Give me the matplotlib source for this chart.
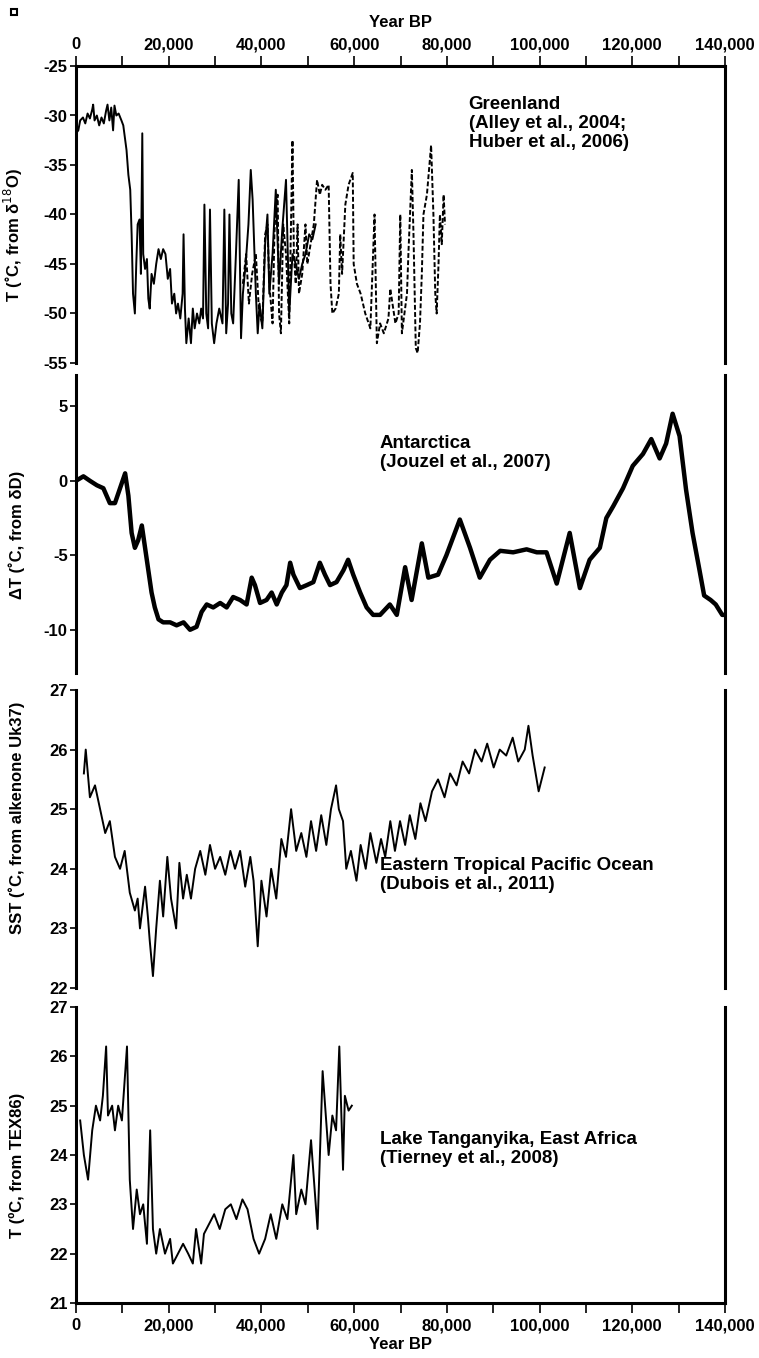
import matplotlib
matplotlib.use("Agg")
import matplotlib.pyplot as plt
from matplotlib.patches import Rectangle
from matplotlib.ticker import FuncFormatter, MultipleLocator

plt.rcParams['font.family'] = ['Liberation Sans', 'DejaVu Sans']
plt.rcParams['axes.unicode_minus'] = False

# ---------------- data ----------------
# Greenland, solid (Alley et al., 2004)
gr_solid_year = [0, 500, 900, 1500, 2000, 2500, 3000, 3500, 3700, 4000, 4500, 5000, 5500, 6000,
                 6500, 6800, 7200, 7600, 8000, 8300, 8700, 9200, 9800, 10200, 10900, 11300, 11700,
                 12000, 12300, 12700, 13000, 13300, 13700, 14000, 14300, 14500, 14900, 15300, 15600,
                 15900, 16300, 16800, 17300, 17800, 18300, 18800, 19300, 19800, 20300, 20700, 21200,
                 21600, 22000, 22500, 23000, 23200, 23500, 23800, 24300, 24800, 25200, 25600, 26100,
                 26600, 27000, 27400, 27700, 28100, 28500, 28900, 29300, 29800, 30300, 30900, 31600,
                 32000, 32400, 32800, 33100, 33500, 33900, 34500, 35100, 35600, 36000, 36600, 37200,
                 37700, 38100, 38800, 39200, 39600, 40200, 40800, 41300, 41700, 42400, 43100, 43800,
                 44500, 45300, 46000, 46700, 47400, 48100, 48800, 49500, 50300, 51000, 51700]
gr_solid_T = [-31.8, -31.5, -30.5, -30.2, -30.8, -29.8, -30.3, -29.4, -28.9, -30.5, -30.0, -31.0,
              -30.2, -30.8, -29.5, -28.9, -30.5, -29.2, -31.5, -29.0, -30.0, -29.8, -30.5, -31.0,
              -33.5, -36.0, -37.5, -42.0, -48.0, -50.0, -45.0, -41.0, -40.5, -46.0, -31.8, -44.0,
              -45.5, -44.5, -48.5, -49.5, -46.0, -47.0, -45.0, -43.5, -44.5, -43.5, -44.0, -46.5,
              -45.5, -49.0, -48.0, -50.0, -49.0, -50.5, -48.0, -42.0, -49.5, -53.0, -50.5, -53.0,
              -49.5, -51.5, -50.0, -51.0, -49.5, -50.5, -39.0, -50.0, -51.5, -39.5, -51.0, -53.0,
              -51.0, -49.5, -51.0, -39.5, -52.0, -49.0, -40.0, -50.0, -51.0, -44.0, -36.5, -52.5,
              -48.0, -45.0, -41.0, -35.5, -38.5, -48.0, -52.0, -49.0, -51.5, -43.0, -40.0, -48.0,
              -44.0, -37.5, -47.0, -41.5, -36.5, -50.0, -44.0, -45.0, -46.5, -45.0, -44.0, -42.0,
              -42.5, -41.0]

# Greenland, dashed (Huber et al., 2006)
gr_dash_year = [36000, 36700, 37300, 38000, 38800, 39500, 40200, 40800, 41300, 41700, 42400, 42800,
                43100, 43500, 43800, 44200, 44700, 45300, 46000, 46700, 47000, 47400, 47800, 48100,
                48800, 49500, 49900, 50600, 51300, 52000, 52600, 53100, 53800, 54500, 54900, 55300,
                56000, 56700, 57000, 57400, 58100, 58800, 59700, 59900, 60600, 61400, 62400, 63500,
                64400, 64900, 65600, 66400, 67400, 67800, 68900, 69600, 69950, 70300, 71400, 71700,
                72450, 72800, 73300, 73700, 74200, 74600, 74950, 75700, 76600, 77100, 77500, 77800,
                78200, 78500, 78900, 79300, 79600]
gr_dash_T = [-47, -44, -49, -46, -44, -50, -51, -42, -41, -47, -51, -42, -39, -38, -50, -52, -41,
             -44, -51, -32.5, -44, -47, -41, -48, -46, -41, -45, -43, -41, -36.5, -38, -37, -37.5,
             -37, -47, -50, -49.5, -48, -42, -46, -39, -37, -35.8, -45, -47, -48, -50, -51.5, -40,
             -53, -51, -52, -50.5, -47.5, -51, -50, -40, -52, -48, -44, -35.5, -42, -53.5, -54, -51,
             -46, -40, -38, -33, -40, -48, -50, -45, -40, -43, -38, -41]

# Antarctica (Jouzel et al., 2007)
ant_year = [0, 1600, 3000, 4500, 5900, 7300, 8400, 9500, 10600, 11300, 12000, 12700, 13400, 14200,
            14900, 15600, 16300, 17000, 17800, 18800, 20300, 21700, 23200, 24600, 26000, 27100,
            28200, 29600, 31100, 32500, 33900, 35400, 36800, 37900, 38600, 39700, 41100, 42200,
            43300, 44400, 45400, 46200, 46900, 48300, 49800, 51200, 52600, 53700, 54800, 56200,
            57700, 58700, 59800, 61300, 62700, 64100, 65600, 67700, 69200, 71000, 72400, 74600,
            76000, 78100, 79900, 82800, 85000, 87100, 89300, 91500, 94300, 97200, 99400, 101500,
            103700, 106500, 108700, 110800, 113000, 114400, 115900, 118000, 120100, 122300, 124100,
            125900, 127300, 128700, 130200, 131600, 133000, 134500, 135500, 136900, 138000, 139400,
            140000]
ant_dT = [0.0, 0.3, 0.0, -0.3, -0.5, -1.5, -1.5, -0.5, 0.5, -1.0, -3.5, -4.5, -4.0, -3.0, -4.5,
          -6.0, -7.5, -8.5, -9.3, -9.5, -9.5, -9.7, -9.5, -10.0, -9.8, -8.8, -8.3, -8.5, -8.2, -8.5,
          -7.8, -8.0, -8.3, -6.5, -7.0, -8.2, -8.0, -7.5, -8.3, -7.5, -7.0, -5.5, -6.3, -7.2, -7.0,
          -6.8, -5.5, -6.3, -7.0, -6.8, -6.0, -5.3, -6.3, -7.5, -8.5, -9.0, -9.0, -8.3, -9.0, -5.8,
          -8.0, -4.2, -6.5, -6.3, -5.0, -2.6, -4.5, -6.5, -5.3, -4.7, -4.8, -4.6, -4.8, -4.8, -6.9,
          -3.5, -7.2, -5.3, -4.5, -2.5, -1.7, -0.5, 1.0, 1.8, 2.8, 1.5, 2.5, 4.5, 3.0, -0.6, -3.5,
          -6.0, -7.7, -8.0, -8.3, -9.0, -9.0]

# Eastern Tropical Pacific SST (Dubois et al., 2011)
sst_year = [1700, 2100, 3000, 4100, 5200, 6300, 7300, 8400, 9500, 10500, 11600, 12700, 13300,
            13800, 14900, 15500, 15900, 16600, 17300, 18100, 18800, 19700, 20500, 21600, 22300,
            23100, 23900, 24800, 25700, 26800, 27900, 28900, 30000, 31100, 32200, 33300, 34300,
            35400, 36500, 37600, 38300, 39200, 40000, 41100, 42100, 43200, 44300, 45300, 46400,
            47500, 48600, 49700, 50700, 51800, 52900, 54000, 55000, 56100, 56700, 57600, 58300,
            59300, 60500, 61400, 62500, 63500, 64800, 65800, 66700, 67800, 68800, 69900, 71000,
            72000, 73200, 74300, 75400, 76800, 78100, 79500, 80700, 82100, 83400, 84800, 86100,
            87500, 88700, 90100, 91400, 92800, 94200, 95400, 96800, 97600, 98500, 99800, 101100]
sst = [25.6, 26.0, 25.2, 25.4, 25.0, 24.6, 24.8, 24.2, 24.0, 24.3, 23.6, 23.3, 23.5, 23.0, 23.7,
       23.2, 22.8, 22.2, 23.0, 23.8, 23.2, 24.2, 23.5, 23.0, 24.1, 23.5, 23.9, 23.5, 24.0, 24.3,
       23.9, 24.4, 24.0, 24.2, 23.9, 24.3, 24.0, 24.3, 23.7, 24.2, 23.8, 22.7, 23.8, 23.2, 24.0,
       23.5, 24.5, 24.2, 25.0, 24.3, 24.6, 24.2, 24.8, 24.3, 24.9, 24.4, 25.0, 25.4, 25.0, 24.8,
       24.0, 24.3, 23.8, 24.4, 24.0, 24.6, 24.1, 24.5, 24.2, 24.8, 24.3, 24.8, 24.4, 24.9, 24.5,
       25.1, 24.8, 25.3, 25.5, 25.2, 25.6, 25.4, 25.8, 25.6, 26.0, 25.8, 26.1, 25.7, 26.0, 25.9,
       26.2, 25.8, 26.0, 26.4, 25.9, 25.3, 25.7]

# Lake Tanganyika (Tierney et al., 2008)
tex_year = [900, 1700, 2600, 3500, 4300, 5200, 5800, 6500, 6900, 7800, 8400, 9100, 9900, 11000,
            11600, 12300, 13100, 13800, 14500, 15300, 16000, 16600, 17300, 18100, 19200, 20300,
            20900, 22000, 23100, 24200, 25200, 25900, 27000, 27600, 28700, 29800, 31000, 32200,
            33400, 34600, 35900, 37000, 38300, 39500, 40800, 42000, 43200, 44500, 45600, 46900,
            47500, 48600, 49500, 50700, 52100, 53200, 54500, 55300, 56100, 56800, 57600, 58000,
            58800, 59500]
tex = [24.7, 24.0, 23.5, 24.5, 25.0, 24.7, 25.2, 26.2, 24.8, 25.0, 24.5, 25.0, 24.7, 26.2, 23.5,
       22.5, 23.3, 22.8, 23.0, 22.2, 24.5, 22.5, 22.0, 22.5, 22.0, 22.3, 21.8, 22.0, 22.2, 22.0,
       21.8, 22.5, 21.8, 22.4, 22.6, 22.8, 22.5, 22.9, 23.0, 22.7, 23.1, 22.9, 22.3, 22.0, 22.3,
       22.8, 22.3, 23.0, 22.7, 24.0, 22.8, 23.3, 23.0, 24.3, 22.5, 25.7, 24.0, 24.8, 24.5, 26.2,
       23.7, 25.2, 24.9, 25.0]

# ---------------- layout (pixel boxes of the reference) ----------------
W, H = 759, 1358
fig = plt.figure(figsize=(W / 100, H / 100), dpi=100)
left_px, right_px = 76, 725


def add_panel(top, bottom):
    return fig.add_axes([left_px / W, 1 - bottom / H, (right_px - left_px) / W, (bottom - top) / H])


ax1 = add_panel(66, 363)
ax2 = add_panel(375, 673)
ax3 = add_panel(690, 988)
ax4 = add_panel(1007, 1303)
axes = [ax1, ax2, ax3, ax4]

lw_spine = 2.2
fs_tick = 12
fs_label = 12
fs_note = 13.5
fmt = FuncFormatter(lambda v, p: "{:,}".format(int(v)))
for ax in axes:
    ax.set_xlim(0, 140000)
    for s in ['left', 'right']:
        ax.spines[s].set_linewidth(lw_spine)
    ax.spines['top'].set_visible(False)
    ax.spines['bottom'].set_visible(False)
    ax.tick_params(axis='y', direction='out', length=4, width=1.2, labelsize=fs_tick, pad=2)
    ax.tick_params(axis='x', which='both', bottom=False, top=False, labelbottom=False, labeltop=False)

# top axis
ax1.spines['top'].set_visible(True)
ax1.spines['top'].set_linewidth(lw_spine)
ax1.xaxis.set_major_locator(MultipleLocator(20000))
ax1.xaxis.set_minor_locator(MultipleLocator(10000))
ax1.xaxis.set_major_formatter(fmt)
ax1.tick_params(axis='x', which='both', top=True, labeltop=True, direction='out', length=7, width=1.2,
                labelsize=fs_tick, pad=3)
ax1.set_xlabel("Year BP", fontsize=fs_label, fontweight='bold', labelpad=7)
ax1.xaxis.set_label_position('top')

# bottom axis
ax4.spines['bottom'].set_visible(True)
ax4.spines['bottom'].set_linewidth(lw_spine)
ax4.xaxis.set_major_locator(MultipleLocator(20000))
ax4.xaxis.set_minor_locator(MultipleLocator(10000))
ax4.xaxis.set_major_formatter(fmt)
ax4.tick_params(axis='x', which='both', bottom=True, labelbottom=True, direction='out', length=7, width=1.2,
                labelsize=fs_tick, pad=4)
ax4.set_xlabel("Year BP", fontsize=fs_label, fontweight='bold', labelpad=3)

# ---- panel 1: Greenland
ax1.plot(gr_dash_year, gr_dash_T, color='black', lw=1.4, ls=(0, (2.5, 1.2)))
ax1.plot(gr_solid_year, gr_solid_T, color='black', lw=1.4)
ax1.set_ylim(-55, -25)
ax1.set_yticks([-55, -50, -45, -40, -35, -30, -25])
ax1.set_ylabel("T (˚C, from δ$^{18}$O)", fontsize=fs_label, fontweight='bold')
ax1.yaxis.set_label_coords(-0.079, 0.43)
ax1.text(0.605, 0.90, "Greenland\n(Alley et al., 2004;\nHuber et al., 2006)", transform=ax1.transAxes,
         fontsize=fs_note, fontweight='bold', va='top', ha='left', linespacing=1.15)

# ---- panel 2: Antarctica
ax2.plot(ant_year, ant_dT, color='black', lw=3.2)
ax2.set_ylim(-12.9, 7.1)
ax2.set_yticks([-10, -5, 0, 5])
ax2.set_ylabel("ΔT (˚C, from δD)", fontsize=fs_label, fontweight='bold')
ax2.yaxis.set_label_coords(-0.079, 0.463)
ax2.text(0.468, 0.80, "Antarctica\n(Jouzel et al., 2007)", transform=ax2.transAxes,
         fontsize=fs_note, fontweight='bold', va='top', ha='left', linespacing=1.15)

# ---- panel 3: Eastern Tropical Pacific
ax3.plot(sst_year, sst, color='black', lw=1.4)
ax3.set_ylim(22, 27)
ax3.set_yticks([22, 23, 24, 25, 26, 27])
ax3.set_ylabel("SST (˚C, from alkenone Uk37)", fontsize=fs_label, fontweight='bold')
ax3.yaxis.set_label_coords(-0.079, 0.57)
ax3.text(0.468, 0.44, "Eastern Tropical Pacific Ocean\n(Dubois et al., 2011)", transform=ax3.transAxes,
         fontsize=fs_note, fontweight='bold', va='top', ha='left', linespacing=1.15)

# ---- panel 4: Lake Tanganyika
ax4.plot(tex_year, tex, color='black', lw=1.4)
ax4.set_ylim(21, 27)
ax4.set_yticks([21, 22, 23, 24, 25, 26, 27])
ax4.set_ylabel("T (ºC, from TEX86)", fontsize=fs_label, fontweight='bold')
ax4.yaxis.set_label_coords(-0.079, 0.466)
ax4.text(0.468, 0.58, "Lake Tanganyika, East Africa\n(Tierney et al., 2008)", transform=ax4.transAxes,
         fontsize=fs_note, fontweight='bold', va='top', ha='left', linespacing=1.15)

for ax in axes:
    for lab in ax.get_yticklabels() + ax.get_xticklabels():
        lab.set_fontweight('bold')

# small square mark in the top-left corner
fig.patches.append(Rectangle((11 / W, 1 - 15 / H), 6 / W, 6 / H, transform=fig.transFigure,
                             fill=False, edgecolor='black', lw=1.5))

fig.savefig("out.png", dpi=100)
